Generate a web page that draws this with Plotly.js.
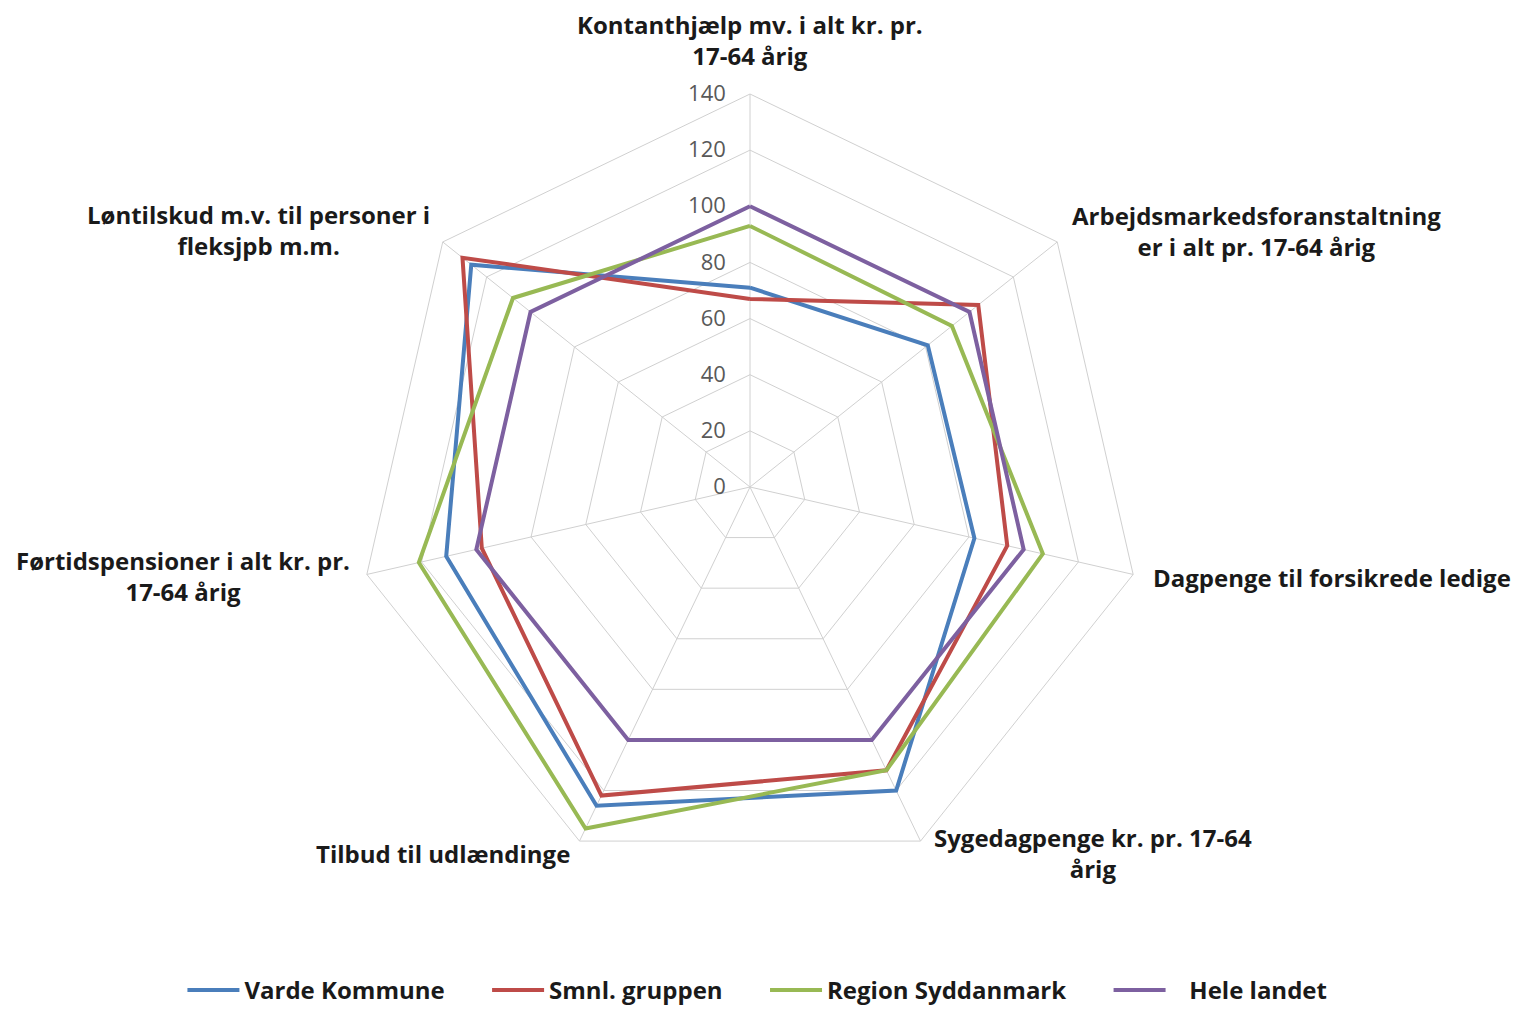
<!DOCTYPE html>
<html>
<head>
<meta charset="utf-8">
<script src="https://cdn.plot.ly/plotly-3.0.1.min.js"></script>
<style>
html,body{margin:0;padding:0;background:#fff;}
#chart{width:1524px;height:1013px;}
</style>
</head>
<body>
<div id="chart"></div>
<script>
// ---- Data ----
var categories = [
  "Kontanthjælp mv. i alt kr. pr.<br>17-64 årig",
  "Arbejdsmarkedsforanstaltning<br>er i alt pr. 17-64 årig",
  "Dagpenge til forsikrede ledige",
  "Sygedagpenge kr. pr. 17-64<br>årig",
  "Tilbud til udlændinge",
  "Førtidspensioner i alt kr. pr.<br>17-64 årig",
  "Løntilskud m.v. til personer i<br>fleksjpb m.m."
];
var seriesNames = ["Varde Kommune", "Smnl. gruppen", "Region Syddanmark", "\u00a0\u00a0\u00a0Hele landet"];
var vardeKommune     = [71, 81, 82, 120, 126, 111, 127];
var smnlGruppen      = [67, 104, 94, 112, 122, 98, 131];
var regionSyddanmark = [93, 92, 107, 112, 135, 121, 108];
var heleLandet       = [100, 100, 100, 100, 100, 100, 100];
var radialTicks = [0, 20, 40, 60, 80, 100, 120, 140];

// ---- Styles ----
var colors = ["#4A7EBB", "#BE4B48", "#98B954", "#7D60A0"];
var seriesValues = [vardeKommune, smnlGruppen, regionSyddanmark, heleLandet];
var FONT = "'Open Sans', 'Noto Sans', sans-serif";
var gap = "\u00a0\u00a0\u00a0\u00a0\u00a0\u00a0";

var traces = seriesValues.map(function (vals, i) {
  return {
    type: "scatterpolar",
    mode: "lines",
    r: vals.concat([vals[0]]),
    theta: categories.concat([categories[0]]),
    name: seriesNames[i] + (i < seriesValues.length - 1 ? gap : ""),
    line: {color: colors[i], width: 4},
    hoverinfo: "skip"
  };
});

// label placements (paper px centres)
var labelPos = [
  [750, 39.5], [1256, 230.5], [1332, 577], [1093, 853],
  [443, 853], [183, 576], [258, 230]
];
var W = 1524, H = 1013;
var annotations = categories.map(function (c, i) {
  return {
    xref: "paper", yref: "paper",
    x: labelPos[i][0] / W, y: 1 - labelPos[i][1] / H,
    xanchor: "center", yanchor: "middle",
    text: "<b>" + c + "</b>",
    showarrow: false,
    align: "center",
    font: {family: FONT, size: 24, color: "#1a1a1a"}
  };
});

var layout = {
  width: W, height: H,
  margin: {l: 0, r: 0, t: 0, b: 0, autoexpand: false},
  paper_bgcolor: "#fff",
  showlegend: true,
  legend: {
    orientation: "h",
    x: 0.497, xanchor: "center",
    y: 0, yanchor: "bottom",
    itemwidth: 52,
    font: {family: FONT, size: 24, color: "#1a1a1a", weight: "bold"}
  },
  annotations: annotations,
  polar: {
    domain: {x: [357 / W, 1143 / W], y: [1 - 880 / H, 1 - 94 / H]},
    gridshape: "linear",
    bgcolor: "#fff",
    radialaxis: {
      range: [0, 140],
      tickvals: radialTicks,
      ticktext: radialTicks.map(String),
      angle: 90,
      tickangle: 90,
      side: "counterclockwise",
      showline: false,
      ticks: "outside",
      ticklen: 16,
      tickcolor: "rgba(0,0,0,0)",
      gridcolor: "#D0D0D0",
      gridwidth: 1,
      tickfont: {family: FONT, size: 22, color: "#595959"}
    },
    angularaxis: {
      direction: "clockwise",
      rotation: 90,
      showticklabels: false,
      ticks: "",
      showline: true,
      linecolor: "#D0D0D0",
      linewidth: 1,
      gridcolor: "#D0D0D0",
      gridwidth: 1
    }
  }
};

Plotly.newPlot("chart", traces, layout, {displayModeBar: false, staticPlot: true});
</script>
</body>
</html>
